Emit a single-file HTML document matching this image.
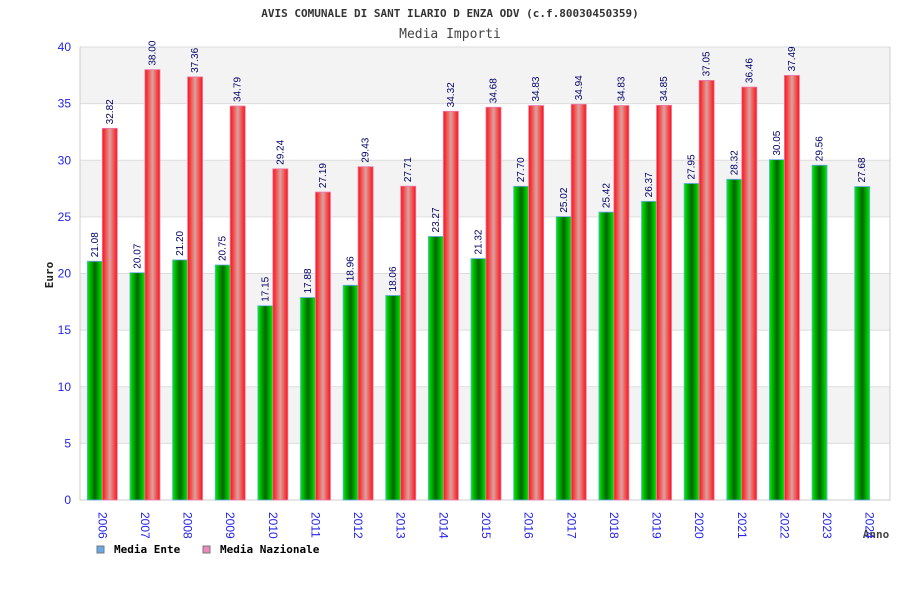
<!DOCTYPE html>
<html><head><meta charset="utf-8"><style>
body{margin:0;background:#fff;}
svg text{font-family:"DejaVu Sans Mono","Liberation Mono",monospace;}
svg text.s{font-family:"Liberation Sans","DejaVu Sans",sans-serif;}
</style></head><body>
<svg id="chart" width="900" height="600" xmlns="http://www.w3.org/2000/svg">
<defs>
<linearGradient id="gG" x1="0" x2="1" y1="0" y2="0"><stop offset="0" stop-color="#00ee00"/><stop offset="0.5" stop-color="#006600"/><stop offset="1" stop-color="#00ee00"/></linearGradient>
<linearGradient id="gR" x1="0" x2="1" y1="0" y2="0"><stop offset="0" stop-color="#ff1010"/><stop offset="0.5" stop-color="#dda0a0"/><stop offset="1" stop-color="#ff1010"/></linearGradient>
</defs>
<text x="450" y="17" text-anchor="middle" font-size="11" font-weight="bold" fill="#333">AVIS COMUNALE DI SANT ILARIO D ENZA ODV (c.f.80030450359)</text>
<text x="450" y="38" text-anchor="middle" font-size="13" fill="#444">Media Importi</text>
<text transform="translate(53,275) rotate(-90)" text-anchor="middle" font-size="11" font-weight="bold" fill="#222">Euro</text>
<text x="876" y="538" text-anchor="middle" font-size="11" font-weight="bold" fill="#444">Anno</text>
<g id="grid"></g><g id="bars"></g><g id="labels"></g>
<g>
<rect x="97" y="546" width="7" height="7" fill="#66aaee" stroke="#777"/>
<text x="114" y="553" font-size="11" font-weight="bold" fill="#000">Media Ente</text>
<rect x="203" y="546" width="7" height="7" fill="#ee88bb" stroke="#777"/>
<text x="220" y="553" font-size="11" font-weight="bold" fill="#000">Media Nazionale</text>
</g>
</svg>
<script>
const years=["2006","2007","2008","2009","2010","2011","2012","2013","2014","2015","2016","2017","2018","2019","2020","2021","2022","2023","2024"];
const ente=[21.08,20.07,21.20,20.75,17.15,17.88,18.96,18.06,23.27,21.32,27.70,25.02,25.42,26.37,27.95,28.32,30.05,29.56,27.68];
const naz=[32.82,38.00,37.36,34.79,29.24,27.19,29.43,27.71,34.32,34.68,34.83,34.94,34.83,34.85,37.05,36.46,37.49,null,null];
const yTicks=[0,5,10,15,20,25,30,35,40];
const NS="http://www.w3.org/2000/svg";
const L=80,R=890,T=47,B=500,yMax=40;
const y=v=>B-(v/yMax)*(B-T);
const step=(R-L)/years.length;
const cx=i=>L+1+step*(i+0.5);
function mk(tag,attrs,parent){const e=document.createElementNS(NS,tag);for(const k in attrs)e.setAttribute(k,attrs[k]);parent.appendChild(e);return e;}
const grid=document.getElementById('grid'),bars=document.getElementById('bars'),labs=document.getElementById('labels');
for(let k=0;k<yTicks.length-1;k++){
 if(k%2===1){const r=mk('rect',{x:L,y:y(yTicks[k+1]),width:R-L,height:y(yTicks[k])-y(yTicks[k+1]),fill:'#f3f3f3'},grid);
 
 }
}
yTicks.forEach(t=>{
 const l=mk('line',{x1:L,x2:R,y1:y(t),y2:y(t),stroke:'#dddddd'},grid);
 
 
 const tx=mk('text',{x:71,y:y(t)+4,'text-anchor':'end','font-size':12,fill:'#2222ee',class:'s'},grid);
 tx.textContent=t;
 
 
});
const ax=mk('path',{d:`M${L} ${T} V${B} H${R} V${T}`,fill:'none',stroke:'#cccccc'},grid);


const bw=15;
years.forEach((yr,i)=>{
 const c=cx(i);
 const g=mk('rect',{x:c-bw,y:y(ente[i]),width:bw,height:B-y(ente[i]),fill:'url(#gG)',stroke:'#66aaee','stroke-width':0.8},bars);
 
 
 const tg=mk('text',{transform:`translate(${c-bw/2+3},${y(ente[i])-4}) rotate(-90)`,'font-size':10,fill:'#000066',class:'s'},labs);
 tg.textContent=ente[i].toFixed(2);
 
 
 if(naz[i]!=null){
  const r=mk('rect',{x:c,y:y(naz[i]),width:bw,height:B-y(naz[i]),fill:'url(#gR)',stroke:'#ee77aa','stroke-width':0.8},bars);
  
  
  const tr=mk('text',{transform:`translate(${c+bw/2+3},${y(naz[i])-4}) rotate(-90)`,'font-size':10,fill:'#000066',class:'s'},labs);
  tr.textContent=naz[i].toFixed(2);
  
  
 }
 const xl=mk('text',{transform:`translate(${c-4},${512}) rotate(90)`,'font-size':12,fill:'#2222ee',class:'s'},labs);
 xl.textContent=yr;
 
 
});
</script>
</body></html>
